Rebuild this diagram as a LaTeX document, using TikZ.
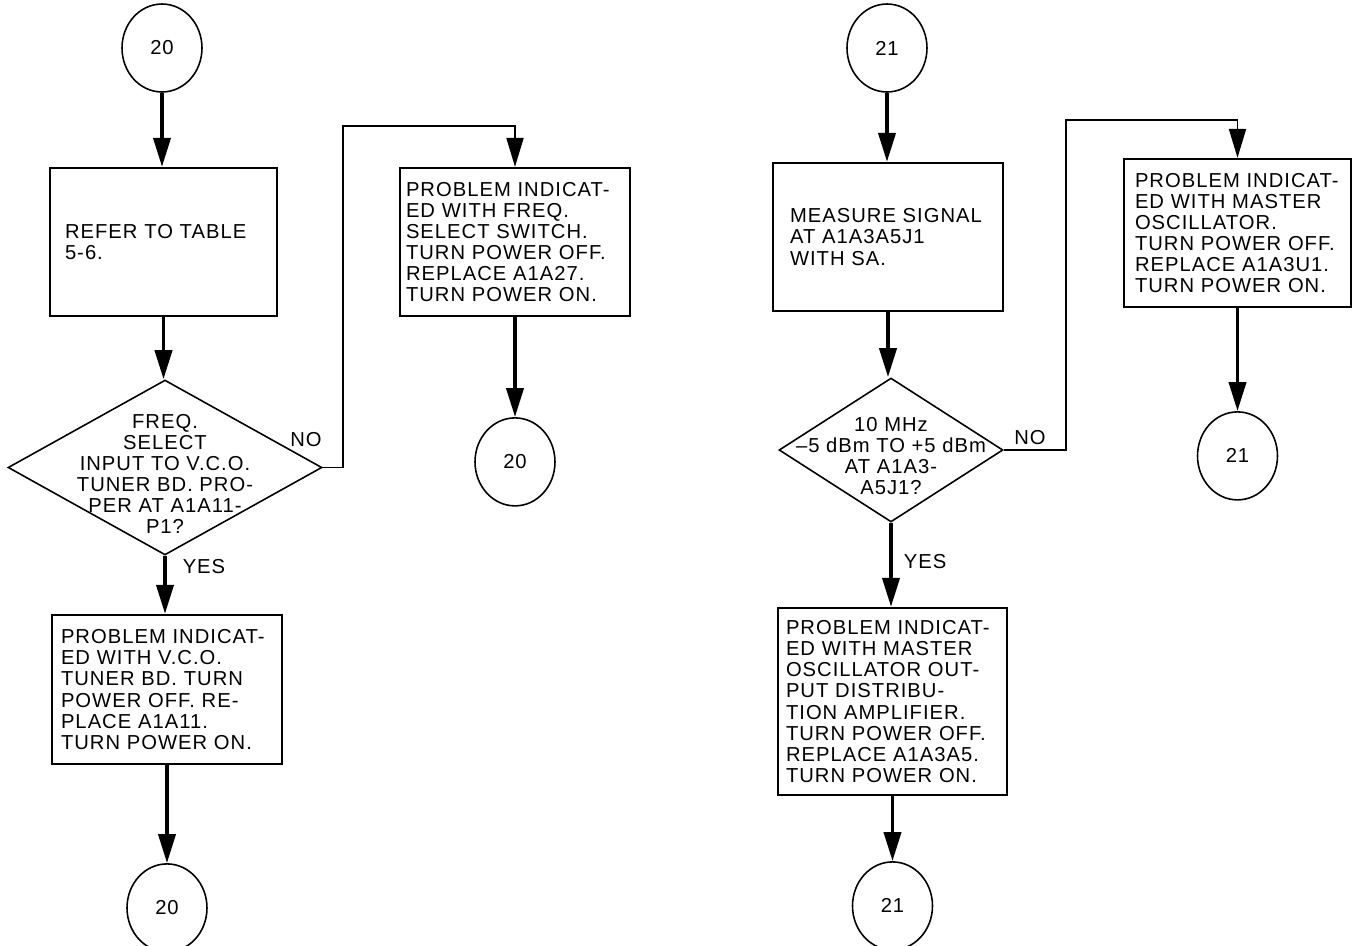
\documentclass[tikz,border=0pt]{standalone}
\usepackage{fontspec}
\newfontfamily\chartfont{Liberation Sans}[LetterSpace=5]
\usetikzlibrary{arrows.meta,positioning,shapes.geometric}
\tikzset{
  chartbox/.style={
    rectangle, draw, line width=1.3pt, inner xsep=#1, inner ysep=0pt,
    minimum height=2.96cm, align=left,
    font=\chartfont\fontsize{11.5}{12}\selectfont
  },
  chartbox/.default=0.2cm,
  offpage/.style={ellipse, draw, line width=0.9pt, minimum width=1.6cm,
    minimum height=1.76cm, inner sep=0pt, font=\chartfont\fontsize{11.5}{12}\selectfont},
  decision/.style={diamond, draw, line width=0.9pt, inner sep=0pt},
  decisiontext/.style={align=center, inner sep=0pt, font=\chartfont\fontsize{11.5}{12}\selectfont},
  answer/.style={inner sep=0pt, font=\chartfont\fontsize{11.5}{12}\selectfont},
  flowarrow/.style={-{Triangle[length=5.8mm,width=3.4mm]}, line width=2.2pt},
  looparrow/.style={flowarrow, line width=1.1pt}
}
\begin{document}
\begin{tikzpicture}[x=0.02cm, y=-0.02cm]
\useasboundingbox (0,0) rectangle (1353,946);

\node[offpage] (in20) at (162,48) {20};
\node[chartbox=0.3cm, text width=3.94cm] (refer) at (163.5,242) {REFER TO TABLE\\5-6.};
\node[decision, minimum width=6.28cm, minimum height=3.5cm] (freqsel) at (165,467.5) {};
\node[decisiontext] (freqseltext) at (165,474)
  {FREQ.\\SELECT\\INPUT TO V.C.O.\\TUNER BD. PRO-\\PER AT A1A11-\\P1?};
\node[chartbox=0.12cm, text width=4.36cm] (fixswitch) at (515,242)
  {PROBLEM INDICAT-\\ED WITH FREQ.\\SELECT SWITCH.\\TURN POWER OFF.\\REPLACE A1A27.\\TURN POWER ON.};
\node[offpage, below=2cm of fixswitch] (out20a) {20};
\node[chartbox=0.18cm, text width=4.24cm, minimum height=2.98cm] (fixvco) at (167,689.5)
  {PROBLEM INDICAT-\\ED WITH V.C.O.\\TUNER BD. TURN\\POWER OFF. RE-\\PLACE A1A11.\\TURN POWER ON.};
\node[offpage, below=1.96cm of fixvco] (out20b) {20};
\node[answer] (no1) at (306,440) {NO};
\node[answer] (yes1) at (204,567) {YES};

\node[offpage] (in21) at (887,48) {21};
\node[chartbox=0.34cm, text width=3.92cm] (measure) at (888,237)
  {MEASURE SIGNAL\\AT A1A3A5J1\\WITH SA.};
\node[decision, minimum width=4.48cm, minimum height=2.88cm] (level) at (891,450) {};
\node[decisiontext] (leveltext) at (891,456)
  {10 MHz\\–5 dBm TO +5 dBm\\AT A1A3-\\A5J1?};
\node[chartbox=0.22cm, text width=4.1cm] (fixosc) at (1237.5,233)
  {PROBLEM INDICAT-\\ED WITH MASTER\\OSCILLATOR.\\TURN POWER OFF.\\REPLACE A1A3U1.\\TURN POWER ON.};
\node[offpage, below=2.06cm of fixosc] (out21a) {21};
\node[chartbox=0.16cm, text width=4.26cm, minimum height=3.74cm] (fixdist) at (892.5,701.5)
  {PROBLEM INDICAT-\\ED WITH MASTER\\OSCILLATOR OUT-\\PUT DISTRIBU-\\TION AMPLIFIER.\\TURN POWER OFF.\\REPLACE A1A3A5.\\TURN POWER ON.};
\node[offpage, below=1.3cm of fixdist] (out21b) {21};
\node[answer] (no2) at (1030,438) {NO};
\node[answer] (yes2) at (925,562) {YES};

\draw[flowarrow] (in20.south) -- (in20.south |- refer.north);
\draw[flowarrow] (refer.south) -- (refer.south |- freqsel.north);
\draw[flowarrow] (freqsel.south) -- (freqsel.south |- fixvco.north);
\draw[looparrow] (freqsel.east) -- ++(20,0) |- ([yshift=0.82cm]fixswitch.north) -- (fixswitch.north);
\draw[flowarrow] (fixswitch) -- (out20a);
\draw[flowarrow] (fixvco) -- (out20b);

\draw[flowarrow] (in21.south) -- (in21.south |- measure.north);
\draw[flowarrow] (measure.south) -- (measure.south |- level.north);
\draw[flowarrow] (level.south) -- (level.south |- fixdist.north);
\draw[looparrow] (level.east) -- ++(62,0) |- ([yshift=0.76cm]fixosc.north) -- (fixosc.north);
\draw[flowarrow] (fixosc) -- (out21a);
\draw[flowarrow] (fixdist) -- (out21b);
\end{tikzpicture}
\end{document}
